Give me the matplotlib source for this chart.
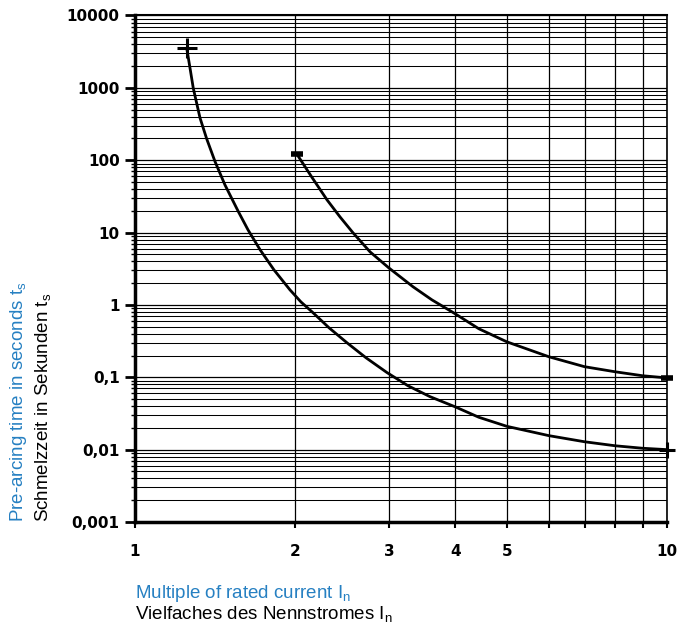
import matplotlib
matplotlib.use("Agg")
import matplotlib.pyplot as plt
from matplotlib.ticker import FixedLocator, NullFormatter, LogLocator

plt.rcParams['mathtext.fontset'] = 'custom'
plt.rcParams['mathtext.rm'] = 'Liberation Sans'
plt.rcParams['mathtext.it'] = 'Liberation Sans:italic'

# Data
curve_a_x = [1.251, 1.269, 1.287, 1.325, 1.364, 1.414, 1.476, 1.564, 1.631, 1.718, 1.825,
             1.955, 2.051, 2.161, 2.316, 2.503, 2.718, 2.977, 3.26, 3.585, 4.0, 4.43,
             5.0, 6.0, 7.0, 8.0, 9.0, 10.0]
curve_a_y = [3525, 1866, 986, 384, 197, 95.7, 45.6, 19.5, 10.9, 5.8, 3.05,
             1.62, 1.10, 0.78, 0.483, 0.30, 0.186, 0.116, 0.0763, 0.054, 0.039, 0.028,
             0.0210, 0.0156, 0.01285, 0.0113, 0.01045, 0.0100]

curve_b_x = [2.014, 2.142, 2.296, 2.428, 2.57, 2.766, 3.0, 3.332, 3.615, 4.0, 4.43,
             5.0, 6.0, 7.0, 8.0, 9.0, 10.0]
curve_b_y = [122, 60.7, 28.3, 16.5, 9.9, 5.41, 3.25, 1.78, 1.175, 0.753, 0.468,
             0.309, 0.192, 0.140, 0.119, 0.105, 0.098]

x_ticks = [1, 2, 3, 4, 5, 6, 7, 8, 9, 10]
x_labels = ['1', '2', '3', '4', '5', '', '', '', '', '10']
y_ticks = [0.001, 0.01, 0.1, 1, 10, 100, 1000, 10000]
y_labels = ['0,001', '0,01', '0,1', '1', '10', '100', '1000', '10000']

blue = '#2680c2'

fig = plt.figure(figsize=(6.85, 6.26), dpi=100)
ax = fig.add_axes([135/685, 1-522/626, (667-135)/685, (522-15.5)/626])
ax.set_xscale('log')
ax.set_yscale('log')
ax.set_xlim(1, 10)
ax.set_ylim(0.001, 10000)

ax.xaxis.set_major_locator(FixedLocator(x_ticks))
ax.set_xticklabels(x_labels)
ax.xaxis.set_minor_locator(FixedLocator([]))
ax.yaxis.set_major_locator(FixedLocator(y_ticks))
ax.set_yticklabels(y_labels)
ax.yaxis.set_minor_locator(LogLocator(base=10, subs=range(2, 10), numticks=20))
ax.yaxis.set_minor_formatter(NullFormatter())

ax.grid(True, which='major', axis='both', color='black', linewidth=0.9)
ax.grid(True, which='minor', axis='y', color='black', linewidth=0.75)

for lab in ax.get_xticklabels() + ax.get_yticklabels():
    lab.set_fontfamily('DejaVu Sans')
    lab.set_fontweight('bold')
    lab.set_fontsize(11)

ax.tick_params(axis='y', which='major', direction='out', length=7, width=2, pad=4)
ax.tick_params(axis='y', which='minor', direction='out', length=3, width=1)
ax.tick_params(axis='x', which='major', direction='out', length=4, width=1.5, pad=12)

ax.spines['left'].set_linewidth(2.5)
ax.spines['bottom'].set_linewidth(2.5)
ax.spines['top'].set_linewidth(1.5)
ax.spines['right'].set_linewidth(1.2)

ax.plot(curve_a_x, curve_a_y, color='black', linewidth=2.0, clip_on=False,
        solid_joinstyle='round')
ax.plot(curve_b_x, curve_b_y, color='black', linewidth=2.0, clip_on=False,
        solid_joinstyle='round')

# end markers
ax.plot([curve_a_x[0]], [curve_a_y[0]], marker='+', markersize=14, mew=2.2,
        color='black', clip_on=False)
ax.plot([curve_a_x[-1]], [curve_a_y[-1]], marker='+', markersize=12, mew=2.2,
        color='black', clip_on=False)
ax.plot([curve_b_x[0]], [curve_b_y[0]], marker='_', markersize=8, mew=4,
        color='black', clip_on=False)
ax.plot([curve_b_x[-1]], [curve_b_y[-1]], marker='_', markersize=9, mew=4,
        color='black', clip_on=False)

# axis titles
fs = 13.5
fig.text(19/685, 1-522/626, r'Pre-arcing time in seconds t$_\mathrm{s}$', color=blue,
         rotation=90, ha='center', va='bottom', fontsize=fs, family='Liberation Sans')
fig.text(43/685, 1-522/626, r'Schmelzzeit in Sekunden t$_\mathrm{s}$', color='black',
         rotation=90, ha='center', va='bottom', fontsize=fs, family='Liberation Sans')
fig.text(135/685, 1-593/626, r'Multiple of rated current I$_\mathrm{n}$', color=blue,
         ha='left', va='center', fontsize=fs, family='Liberation Sans')
fig.text(135/685, 1-614/626, r'Vielfaches des Nennstromes I$_\mathrm{n}$', color='black',
         ha='left', va='center', fontsize=fs, family='Liberation Sans')

fig.savefig('out.png', dpi=100)
